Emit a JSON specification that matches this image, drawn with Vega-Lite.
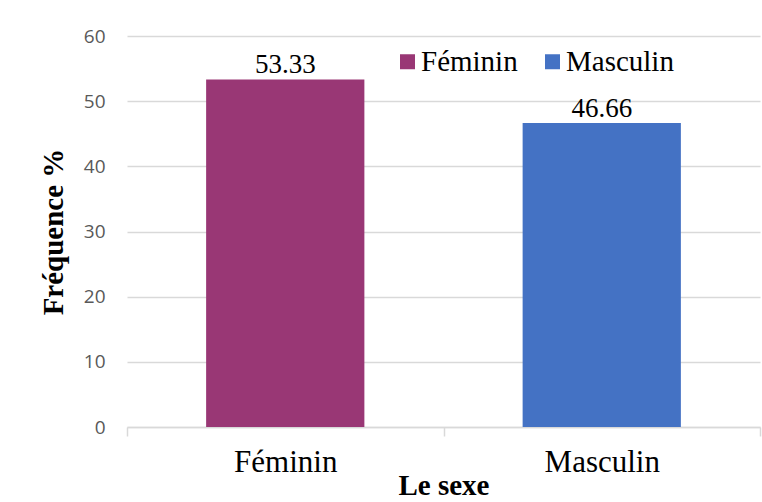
{
  "$schema": "https://vega.github.io/schema/vega-lite/v6.json",
  "width": 633,
  "height": 391,
  "autosize": "none",
  "padding": {"left": 127, "top": 36, "right": 2, "bottom": 75},
  "background": "white",
  "data": {"values": [
    {"sexe": "Féminin", "freq": 53.33},
    {"sexe": "Masculin", "freq": 46.66}
  ]},
  "encoding": {
    "x": {
      "field": "sexe", "type": "nominal", "sort": ["Féminin", "Masculin"],
      "scale": {"paddingInner": 0, "paddingOuter": 0},
      "axis": {
        "title": "Le sexe", "labelAngle": 0,
        "labelFont": "Liberation Serif", "labelFontSize": 31, "labelColor": "#000000",
        "labelPadding": 11,
        "titleFont": "Liberation Serif", "titleFontSize": 29, "titleFontWeight": "bold", "titleColor": "#000000",
        "titlePadding": -6,
        "domainColor": "#d9d9d9", "domainWidth": 1.5,
        "tickColor": "#d9d9d9", "tickWidth": 1.5, "tickSize": 9, "tickBand": "extent",
        "grid": false
      }
    },
    "y": {
      "field": "freq", "type": "quantitative",
      "scale": {"domain": [0, 60], "nice": false},
      "axis": {
        "title": "Fréquence %", "values": [0, 10, 20, 30, 40, 50, 60],
        "labelFont": "Open Sans", "labelFontSize": 19, "labelColor": "#595959",
        "labelPadding": 22,
        "titleFont": "Liberation Serif", "titleFontSize": 29, "titleFontWeight": "bold", "titleColor": "#000000",
        "titlePadding": 15,
        "domain": false, "ticks": false,
        "grid": true, "gridColor": "#d9d9d9", "gridWidth": 1.5
      }
    }
  },
  "layer": [
    {
      "mark": {"type": "bar", "width": {"band": 0.5}},
      "encoding": {
        "color": {
          "field": "sexe", "type": "nominal",
          "scale": {"domain": ["Féminin", "Masculin"], "range": ["#993775", "#4472C4"]},
          "legend": {
            "title": null, "orient": "none", "direction": "horizontal",
            "legendX": 266, "legendY": 11,
            "symbolType": "square", "symbolSize": 225, "symbolStrokeWidth": 0,
            "labelFont": "Liberation Serif", "labelFontSize": 29, "labelColor": "#000000",
            "labelOffset": -1, "columnPadding": 20, "labelLimit": 300, "padding": 0
          }
        }
      }
    },
    {
      "mark": {"type": "text", "font": "Liberation Serif", "fontSize": 27, "fill": "#000000", "baseline": "alphabetic", "dy": -6},
      "encoding": {"text": {"field": "freq", "type": "quantitative", "format": ".2f"}}
    }
  ],
  "config": {"view": {"stroke": null}, "text": {"font": "Liberation Serif"}}
}
